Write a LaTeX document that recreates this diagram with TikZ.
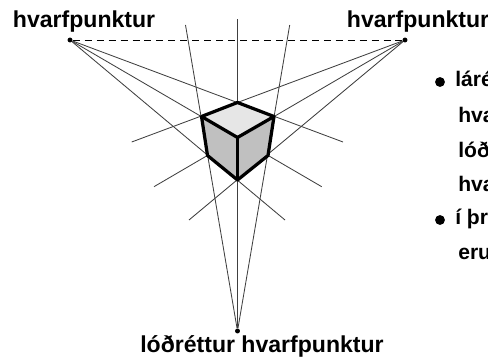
\documentclass[tikz,border=0pt]{standalone}
\usepackage{fontspec}
\setmainfont{Liberation Sans}
\usepackage{xcolor}
\usepackage{tikz}
\definecolor{topgray}{HTML}{E6E6E6}
\definecolor{sidegray}{HTML}{C0C0C0}
\definecolor{raygray}{HTML}{404040}

\begin{document}
\begin{tikzpicture}[
  x=0.025cm,
  y=-0.025cm,
  vanish/.style={
    circle,
    fill=black,
    inner sep=0pt,
    minimum size=3.5pt
  },
  bulletdot/.style={
    circle,
    fill=black,
    inner sep=0pt,
    minimum size=7pt
  },
  vplabel/.style={
    anchor=base west,
    inner sep=0pt,
    font=\fontsize{16.4pt}{18pt}\selectfont\bfseries
  },
  bodytext/.style={
    anchor=base west,
    inner sep=0pt,
    font=\fontsize{15pt}{17pt}\selectfont\bfseries
  },
  ray/.style={raygray, line width=0.6pt},
  horizon/.style={black, line width=0.6pt, dash pattern=on 5pt off 3.5pt},
  cubeedge/.style={black, line width=2.3pt, line join=round}
]
\clip (0,0) rectangle (488,360);
\node[vanish] (vpl) at (70, 40) {};
\node[vanish] (vpr) at (405, 40) {};
\node[vanish] (vpb) at (237.5, 331) {};
\node[vplabel] (lbll) at (12.7, 28) {hvarfpunktur};
\node[vplabel] (lblr) at (346.7, 28) {hvarfpunktur};
\node[vplabel] (lblb) at (140, 353) {lóðréttur hvarfpunktur};
% cube corners
\coordinate (ctop) at (237.5, 102.5);
\coordinate (cleft) at (201.5, 116.5);
\coordinate (cright) at (274, 116.5);
\coordinate (cmid) at (237.5, 137.5);
\coordinate (clowl) at (207.5, 155.5);
\coordinate (clowr) at (268, 155.5);
\coordinate (cbot) at (237.5, 180);
% free ends of the rays
\coordinate (el1) at (343, 142);
\coordinate (el2) at (321.7, 186.7);
\coordinate (el3) at (285, 220);
\coordinate (er1) at (131.7, 142);
\coordinate (er2) at (154, 186.7);
\coordinate (er3) at (189, 220);
\coordinate (eb1) at (185.5, 25);
\coordinate (eb2) at (237.5, 19);
\coordinate (eb3) at (289.7, 25);
\draw[horizon] (vpl) -- (vpr);
\draw[ray] (vpl) -- (el1);
\draw[ray] (vpl) -- (el2);
\draw[ray] (vpl) -- (el3);
\draw[ray] (vpr) -- (er1);
\draw[ray] (vpr) -- (er2);
\draw[ray] (vpr) -- (er3);
\draw[ray] (vpb) -- (eb1);
\draw[ray] (vpb) -- (eb2);
\draw[ray] (vpb) -- (eb3);
% cube faces
\fill[topgray] (ctop) -- (cright) -- (cmid) -- (cleft) -- cycle;
\fill[sidegray] (cleft) -- (cmid) -- (cright) -- (clowr) -- (cbot) -- (clowl) -- cycle;
\draw[cubeedge] (ctop) -- (cright) -- (clowr) -- (cbot) -- (clowl) -- (cleft) -- cycle;
\draw[cubeedge] (cleft) -- (cmid) -- (cright);
\draw[cubeedge] (cmid) -- (cbot);
% text at the right, cut off by the picture edge
\node[bulletdot] (bul1) at (440, 82) {};
\node[bodytext] (txt1) at (455, 87) {láré};
\node[bodytext] (txt2) at (458, 123) {hva};
\node[bodytext] (txt3) at (458, 158) {lóð};
\node[bodytext] (txt4) at (458, 192) {hva};
\node[bulletdot] (bul2) at (440, 220) {};
\node[bodytext] (txt5) at (455, 225) {í þr};
\node[bodytext] (txt6) at (458, 260) {eru};
\end{tikzpicture}
\end{document}
